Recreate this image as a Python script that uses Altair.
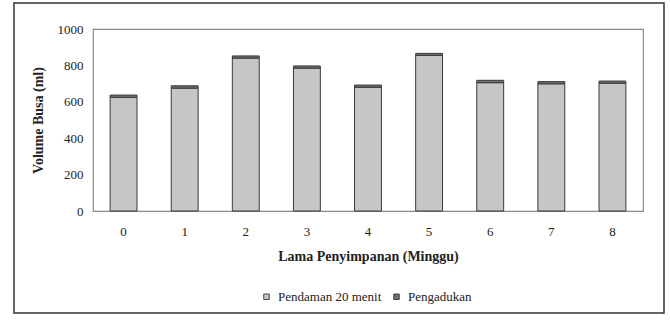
import altair as alt
import pandas as pd

# Foam volume per storage week, split by treatment
minggu = [0, 1, 2, 3, 4, 5, 6, 7, 8]
pendaman = [624, 675, 840, 785, 680, 855, 705, 699, 702]
pengadukan = [13, 13, 12, 12, 12, 11, 13, 12, 12]

series = ["Pendaman 20 menit", "Pengadukan"]

rows = []
for i, w in enumerate(minggu):
    rows.append({"minggu": w, "seri": series[0], "urut": 0, "volume": pendaman[i]})
    rows.append({"minggu": w, "seri": series[1], "urut": 1, "volume": pengadukan[i]})
df = pd.DataFrame(rows)

FONT = "Liberation Serif"

bars = alt.Chart(df).mark_bar(stroke="#3a3a3a", strokeWidth=1).encode(
    x=alt.X(
        "minggu:O",
        title="Lama Penyimpanan (Minggu)",
        scale=alt.Scale(paddingInner=0.56, paddingOuter=0.28),
        axis=alt.Axis(
            labelAngle=0,
            ticks=False,
            domain=False,
            labelPadding=14,
            titlePadding=11,
        ),
    ),
    y=alt.Y(
        "volume:Q",
        title="Volume Busa (ml)",
        stack="zero",
        scale=alt.Scale(domain=[0, 1000], nice=False),
        axis=alt.Axis(
            values=[0, 200, 400, 600, 800, 1000],
            format="d",
            grid=False,
            ticks=False,
            domain=False,
            labelPadding=10,
            titlePadding=12,
        ),
    ),
    color=alt.Color(
        "seri:N",
        title=None,
        scale=alt.Scale(domain=series, range=["#c6c6c6", "#6f6f6f"]),
        legend=alt.Legend(
            orient="none",
            legendX=167,
            legendY=261,
            direction="horizontal",
            symbolType="square",
            symbolSize=30,
            symbolStrokeColor="#444",
            symbolStrokeWidth=1,
            columnPadding=8,
            labelOffset=5,
            labelFont=FONT,
            labelFontSize=13,
            labelColor="#222",
        ),
    ),
    order=alt.Order("urut:Q"),
)

# Frame drawn around the whole figure
frame = alt.Chart(alt.Data(values=[{}])).mark_rect(
    fill=None, stroke="#333", strokeWidth=1.5
).encode(
    x=alt.value(-79),
    x2=alt.value(571),
    y=alt.value(-26),
    y2=alt.value(284),
)

chart = (
    alt.layer(bars, frame)
    .properties(
        width=550,
        height=182,
        autosize=alt.AutoSizeParams(type="none"),
        padding={"left": 93, "top": 29, "right": 27, "bottom": 109},
        background="white",
    )
    .configure(font=FONT)
    .configure_view(stroke="#8a8a8a", strokeWidth=1.2)
    .configure_axis(
        labelFont=FONT,
        labelFontSize=13,
        labelColor="#222",
        titleFont=FONT,
        titleFontSize=14,
        titleFontWeight="bold",
        titleColor="#222",
    )
    .configure_legend(
        labelFont=FONT,
        labelFontSize=13,
        labelColor="#222",
    )
)

chart.save("out.html", embed_options={"renderer": "svg", "actions": False})
